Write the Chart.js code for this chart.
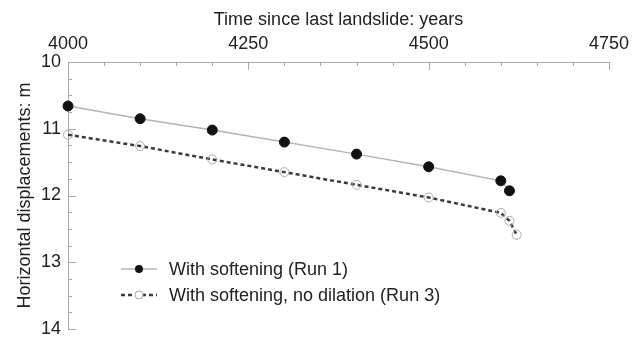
<!DOCTYPE html>
<html>
<head>
<meta charset="utf-8">
<script src="https://cdn.jsdelivr.net/npm/chart.js@4/dist/chart.umd.min.js"></script>
<style>
html,body{margin:0;padding:0;background:#fff;}
#c{display:block;}
</style>
</head>
<body>
<canvas id="c" width="644" height="343"></canvas>
<script>
// Data
const yearsRun1 = [4000, 4100, 4200, 4300, 4400, 4500, 4600, 4612];
const dispRun1  = [10.66, 10.85, 11.02, 11.20, 11.38, 11.57, 11.78, 11.93];
const yearsRun3 = [4000, 4100, 4200, 4300, 4400, 4500, 4600, 4612, 4622];
const dispRun3  = [11.09, 11.26, 11.46, 11.65, 11.84, 12.03, 12.26, 12.38, 12.59];
const xTickLabels = [4000, 4250, 4500, 4750];
const yTickLabels = [10, 11, 12, 13, 14];
const seriesNames = ['With softening (Run 1)', 'With softening, no dilation (Run 3)'];
const xTitle = 'Time since last landslide: years';
const yTitle = 'Horizontal displacements: m';

const FONT = "'Liberation Sans', Arial, Helvetica, sans-serif";
const AXIS = '#a8a8a8';
const TXT = '#222';

const toPts = (xs, ys) => xs.map((x, i) => ({x: x, y: ys[i]}));

const innerTicks = {
  id: 'innerTicks',
  afterDraw(chart) {
    const ctx = chart.ctx;
    const xs = chart.scales.x, ys = chart.scales.y;
    ctx.save();
    ctx.strokeStyle = AXIS;
    ctx.lineWidth = 1;
    xs.ticks.forEach(t => {
      const px = Math.round(xs.getPixelForValue(t.value)) + 0.5;
      const len = xTickLabels.includes(t.value) ? 8 : 4;
      ctx.beginPath();
      ctx.moveTo(px, xs.bottom);
      ctx.lineTo(px, xs.bottom + len);
      ctx.stroke();
    });
    ys.ticks.forEach(t => {
      const py = Math.round(ys.getPixelForValue(t.value)) + 0.5;
      const len = yTickLabels.includes(t.value) ? 8 : 4;
      ctx.beginPath();
      ctx.moveTo(ys.right, py);
      ctx.lineTo(ys.right + len, py);
      ctx.stroke();
    });
    ctx.restore();
  }
};

const legendInside = {
  id: 'legendInside',
  afterDraw(chart) {
    const ctx = chart.ctx;
    const rows = [269, 295];
    const x0 = 121, x1 = 157, xm = 139, xt = 169;
    ctx.save();
    chart.data.datasets.forEach((ds, i) => {
      const y = rows[i];
      ctx.beginPath();
      ctx.setLineDash(ds.borderDash || []);
      ctx.strokeStyle = ds.borderColor;
      ctx.lineWidth = ds.borderWidth;
      ctx.moveTo(x0, y);
      ctx.lineTo(x1, y);
      ctx.stroke();
      ctx.setLineDash([]);
      ctx.beginPath();
      ctx.arc(xm, y, 4, 0, Math.PI * 2);
      if (ds.pointBackgroundColor !== 'rgba(0,0,0,0)') {
        ctx.fillStyle = ds.pointBackgroundColor;
        ctx.fill();
      } else {
        ctx.fillStyle = '#fff';
        ctx.fill();
        ctx.strokeStyle = ds.pointBorderColor;
        ctx.lineWidth = 1;
        ctx.stroke();
      }
      ctx.fillStyle = TXT;
      ctx.font = '18px ' + FONT;
      ctx.textBaseline = 'middle';
      ctx.textAlign = 'left';
      ctx.fillText(ds.label, xt, y + 1);
    });
    ctx.restore();
  }
};

new Chart(document.getElementById('c'), {
  type: 'line',
  data: {
    datasets: [
      {
        label: seriesNames[0],
        data: toPts(yearsRun1, dispRun1),
        borderColor: '#b4b4b4',
        borderWidth: 1.5,
        pointRadius: 5,
        pointBackgroundColor: '#111',
        pointBorderColor: '#111',
        pointBorderWidth: 1,
        tension: 0,
        clip: false
      },
      {
        label: seriesNames[1],
        data: toPts(yearsRun3, dispRun3),
        borderColor: '#3a3a3a',
        borderWidth: 2.5,
        borderDash: [4, 3],
        pointRadius: 4.5,
        pointBackgroundColor: 'rgba(0,0,0,0)',
        pointBorderColor: '#aaaaaa',
        pointBorderWidth: 1,
        tension: 0,
        clip: false
      }
    ]
  },
  options: {
    responsive: false,
    animation: false,
    devicePixelRatio: 1,
    layout: {padding: {left: 0, right: 35, top: 0, bottom: 14}},
    plugins: {legend: {display: false}, tooltip: {enabled: false}},
    scales: {
      x: {
        type: 'linear',
        position: 'top',
        min: 4000, max: 4750,
        grid: {display: true, drawOnChartArea: false, drawTicks: false, color: 'rgba(0,0,0,0)'},
        border: {display: true, color: AXIS, width: 1},
        ticks: {
          stepSize: 50, autoSkip: false, maxRotation: 0, padding: 7,
          color: TXT, font: {family: FONT, size: 18},
          callback: v => xTickLabels.includes(v) ? String(v) : ''
        },
        title: {display: true, text: xTitle, color: TXT, font: {family: FONT, size: 18}, padding: {top: 9, bottom: 0}},
        afterFit: s => { s.height = 62; s.paddingLeft = 0; s.paddingRight = 0; }
      },
      y: {
        type: 'linear',
        position: 'left',
        reverse: true,
        min: 10, max: 14,
        grid: {display: true, drawOnChartArea: false, drawTicks: false, color: 'rgba(0,0,0,0)'},
        border: {display: true, color: AXIS, width: 1},
        ticks: {
          stepSize: 0.25, autoSkip: false, padding: 7,
          color: TXT, font: {family: FONT, size: 18},
          callback: v => yTickLabels.includes(v) ? String(v) : ''
        },
        title: {display: true, text: yTitle, color: TXT, font: {family: FONT, size: 18}, padding: {top: 14, bottom: 0}},
        afterFit: s => { s.width = 68; s.paddingTop = 0; s.paddingBottom = 0; }
      }
    }
  },
  plugins: [innerTicks, legendInside]
});
</script>
</body>
</html>
